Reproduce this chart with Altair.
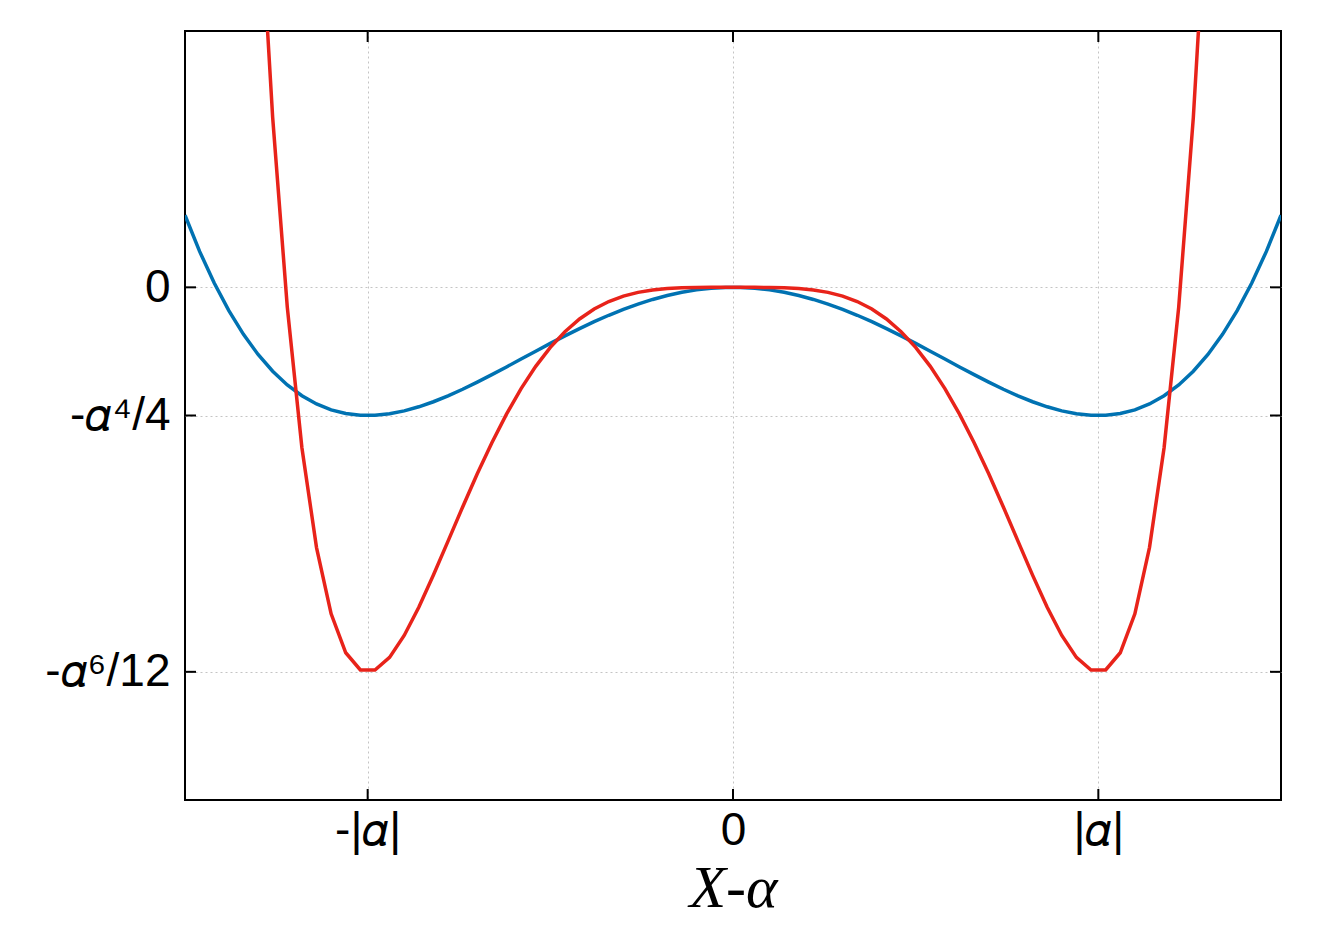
import altair as alt
import pandas as pd

# sample positions along X-alpha (alpha = 3)
x_vals = [-4.50, -4.38, -4.26, -4.14, -4.02, -3.90, -3.78, -3.66, -3.54, -3.42,
          -3.30, -3.18, -3.06, -2.94, -2.82, -2.70, -2.58, -2.46, -2.34, -2.22,
          -2.10, -1.98, -1.86, -1.74, -1.62, -1.50, -1.38, -1.26, -1.14, -1.02,
          -0.90, -0.78, -0.66, -0.54, -0.42, -0.30, -0.18, -0.06,
          0.06, 0.18, 0.30, 0.42, 0.54, 0.66, 0.78, 0.90, 1.02, 1.14,
          1.26, 1.38, 1.50, 1.62, 1.74, 1.86, 1.98, 2.10, 2.22, 2.34,
          2.46, 2.58, 2.70, 2.82, 2.94, 3.06, 3.18, 3.30, 3.42, 3.54,
          3.66, 3.78, 3.90, 4.02, 4.14, 4.26, 4.38, 4.50]

blue_vals = [11.391, 5.681, 0.670, -3.687, -7.432, -10.609, -13.258, -15.420, -17.132, -18.432,
             -19.357, -19.941, -20.217, -20.218, -19.976, -19.519, -18.877, -18.077, -17.145, -16.106,
             -14.983, -13.799, -12.576, -11.333, -10.088, -8.859, -7.663, -6.514, -5.426, -4.411,
             -3.481, -2.645, -1.913, -1.291, -0.786, -0.403, -0.146, -0.016,
             -0.016, -0.146, -0.403, -0.786, -1.291, -1.913, -2.645, -3.481, -4.411, -5.426,
             -6.514, -7.663, -8.859, -10.088, -11.333, -12.576, -13.799, -14.983, -16.106, -17.145,
             -18.077, -18.877, -19.519, -19.976, -20.218, -20.217, -19.941, -19.357, -18.432, -17.132,
             -15.420, -13.258, -10.609, -7.432, -3.687, 0.670, 5.681, 11.391]

red_vals = [461.32, 348.68, 255.10, 178.20, 115.80, 65.933, 26.826, -3.122, -25.346, -41.124,
            -51.588, -57.736, -60.445, -60.472, -58.472, -55.004, -50.537, -45.462, -40.098, -34.699,
            -29.464, -24.539, -20.029, -15.999, -12.484, -9.492, -7.009, -5.004, -3.434, -2.248,
            -1.388, -0.795, -0.413, -0.187, -0.069, -0.018, -0.002, -0.000,
            -0.000, -0.002, -0.018, -0.069, -0.187, -0.413, -0.795, -1.388, -2.248, -3.434,
            -5.004, -7.009, -9.492, -12.484, -15.999, -20.029, -24.539, -29.464, -34.699, -40.098,
            -45.462, -50.537, -55.004, -58.472, -60.472, -60.445, -57.736, -51.588, -41.124, -25.346,
            -3.122, 26.826, 65.933, 115.80, 178.20, 255.10, 348.68, 461.32]

x_tick_values = [-3, 0, 3]
x_tick_labels = ["-|\U0001D6FC|", "0", "|\U0001D6FC|"]
y_tick_values = [0, -20.25, -60.75]
y_tick_labels = ["0", "-\U0001D6FC\u2074/4", "-\U0001D6FC\u2076/12"]

W, H = 1096, 769
BLUE = "#0072b2"
RED = "#e8231a"


def label_expr(values, labels):
    expr = "''"
    for v, lab in reversed(list(zip(values, labels))):
        expr = f"abs(datum.value - ({v})) < 0.01 ? '{lab}' : ({expr})"
    return expr


df = pd.DataFrame({"x": x_vals, "blue": blue_vals, "red": red_vals})
xt = pd.DataFrame({"v": x_tick_values})
yt = pd.DataFrame({"v": y_tick_values})

xscale = alt.Scale(domain=[-4.5, 4.5], nice=False, zero=False)
yscale = alt.Scale(domain=[-81, 40.5], nice=False, zero=False)

grid_common = dict(grid=True, gridColor="#c4c4c4", gridDash=[2, 3], gridWidth=1,
                   ticks=False, domain=False, labelFont="Liberation Sans",
                   labelFontSize=46, labelColor="black")

xaxis = alt.Axis(values=x_tick_values, labelExpr=label_expr(x_tick_values, x_tick_labels),
                 title="X-\u03B1", titleFont="Liberation Serif", titleFontStyle="italic",
                 titleFontWeight="normal", titleFontSize=60, titleColor="black",
                 titlePadding=6, labelPadding=8, **grid_common)
yaxis = alt.Axis(values=y_tick_values, labelExpr=label_expr(y_tick_values, y_tick_labels),
                 title=None, labelPadding=15, **grid_common)

base = alt.Chart(df)
blue = base.mark_line(color=BLUE, strokeWidth=3.5, clip=True).encode(
    x=alt.X("x:Q", scale=xscale, axis=xaxis),
    y=alt.Y("blue:Q", scale=yscale, axis=yaxis),
)
red = base.mark_line(color=RED, strokeWidth=3.5, clip=True).encode(
    x=alt.X("x:Q", scale=xscale),
    y=alt.Y("red:Q", scale=yscale),
)

TL = 11
left_ticks = alt.Chart(yt).mark_rule(color="black", strokeWidth=2).encode(
    y=alt.Y("v:Q", scale=yscale), x=alt.value(0), x2=alt.value(TL))
right_ticks = alt.Chart(yt).mark_rule(color="black", strokeWidth=2).encode(
    y=alt.Y("v:Q", scale=yscale), x=alt.value(W - TL), x2=alt.value(W))
bottom_ticks = alt.Chart(xt).mark_rule(color="black", strokeWidth=2).encode(
    x=alt.X("v:Q", scale=xscale), y=alt.value(H - TL), y2=alt.value(H))
top_ticks = alt.Chart(xt).mark_rule(color="black", strokeWidth=2).encode(
    x=alt.X("v:Q", scale=xscale), y=alt.value(0), y2=alt.value(TL))

chart = alt.layer(blue, red, left_ticks, right_ticks, bottom_ticks, top_ticks).properties(
    width=W, height=H,
    autosize=alt.AutoSizeParams(type="none"),
    padding={"left": 177, "top": 23, "right": 40, "bottom": 122},
    background="white",
).configure_view(stroke="black", strokeWidth=2)

chart.save("out.html", embed_options={"renderer": "svg", "actions": False})
